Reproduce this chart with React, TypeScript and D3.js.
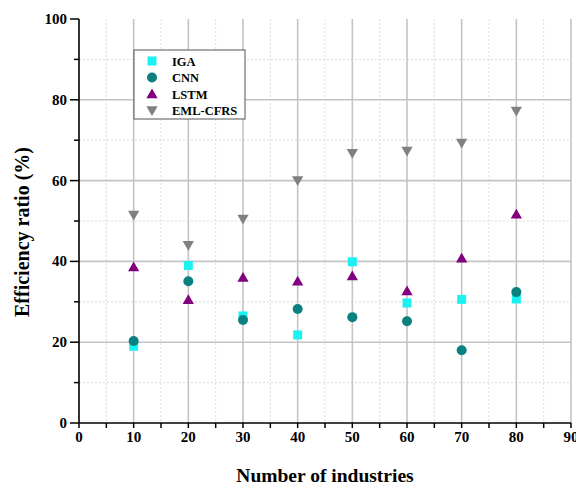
import React from 'react';
import * as d3 from 'd3';

const width = 576;
const height = 485;
const margin = { top: 19, right: 5, bottom: 62, left: 79 };

const industries = [10, 20, 30, 40, 50, 60, 70, 80];
const igaValues = [19, 39, 26.5, 21.8, 39.9, 29.7, 30.6, 30.7];
const cnnValues = [20.3, 35.1, 25.5, 28.2, 26.2, 25.2, 18, 32.4];
const lstmValues = [38.6, 30.5, 36, 35.1, 36.4, 32.7, 40.8, 51.7];
const emlValues = [51.5, 44, 50.5, 60, 66.8, 67.3, 69.3, 77.2];
const xTicks = [0, 10, 20, 30, 40, 50, 60, 70, 80, 90];
const yTicks = [0, 20, 40, 60, 80, 100];

const series = [
  { name: 'IGA', values: igaValues, color: '#1af2f2', shape: 'square' },
  { name: 'CNN', values: cnnValues, color: '#0a8080', shape: 'circle' },
  { name: 'LSTM', values: lstmValues, color: '#800080', shape: 'up' },
  { name: 'EML-CFRS', values: emlValues, color: '#808080', shape: 'down' },
];

const font = '"Liberation Serif", "Times New Roman", serif';

const x = d3.scaleLinear().domain([0, 90]).range([margin.left, width - margin.right]);
const y = d3.scaleLinear().domain([0, 100]).range([height - margin.bottom, margin.top]);

function Marker({ shape, cx, cy, color }: { shape: string; cx: number; cy: number; color: string }) {
  if (shape === 'square') {
    return <rect x={cx - 4.5} y={cy - 4.5} width={9} height={9} fill={color} />;
  }
  if (shape === 'circle') {
    return <circle cx={cx} cy={cy} r={5} fill={color} />;
  }
  const sym = d3.symbol().type(d3.symbolTriangle).size(55)();
  const rot = shape === 'down' ? 180 : 0;
  return <path d={sym || ''} transform={`translate(${cx},${cy + (shape === 'down' ? -1 : 1)}) rotate(${rot})`} fill={color} />;
}

export default function App() {
  const minorX = d3.range(5, 90, 10);
  const minorY = d3.range(10, 100, 20);
  const y0 = y(0);
  const x0 = x(0);
  return (
    <svg width={width} height={height} style={{ position: 'absolute', left: 0, top: 0, background: '#fff' }} fontFamily={font}>
      {/* minor grid */}
      {minorX.map(v => (
        <line key={'mx' + v} x1={x(v)} x2={x(v)} y1={y(100)} y2={y0} stroke="#dcdcdc" strokeDasharray="2,2" strokeWidth={1} />
      ))}
      {minorY.map(v => (
        <line key={'my' + v} x1={x0} x2={x(90)} y1={y(v)} y2={y(v)} stroke="#dcdcdc" strokeDasharray="2,2" strokeWidth={1} />
      ))}
      {/* major grid */}
      {xTicks.slice(1).map(v => (
        <line key={'gx' + v} x1={x(v)} x2={x(v)} y1={y(100)} y2={y0} stroke="#c4c4c4" strokeWidth={1.6} />
      ))}
      {yTicks.slice(1, 5).map(v => (
        <line key={'gy' + v} x1={x0} x2={x(90)} y1={y(v)} y2={y(v)} stroke="#c4c4c4" strokeWidth={1.6} />
      ))}

      {/* axes */}
      <line x1={x0} x2={x0} y1={y(100)} y2={y0} stroke="#000" strokeWidth={1.6} />
      <line x1={x0} x2={x(90)} y1={y0} y2={y0} stroke="#000" strokeWidth={1.6} />
      {d3.range(0, 95, 5).map(v => (
        <line key={'tx' + v} x1={x(v)} x2={x(v)} y1={y0} y2={y0 + 5} stroke="#000" strokeWidth={1.5} />
      ))}
      {d3.range(0, 110, 10).map(v => (
        <line key={'ty' + v} x1={x0} x2={x0 - (v % 20 === 0 ? 9 : 5)} y1={y(v)} y2={y(v)} stroke="#000" strokeWidth={1.5} />
      ))}
      {xTicks.map(v => (
        <text key={'lx' + v} x={x(v)} y={y0 + 19} textAnchor="middle" fontSize={15} fontWeight="bold">{v}</text>
      ))}
      {yTicks.map(v => (
        <text key={'ly' + v} x={x0 - 12} y={y(v) + 5} textAnchor="end" fontSize={15} fontWeight="bold">{v}</text>
      ))}
      <text x={325} y={482} textAnchor="middle" fontSize={19.5} fontWeight="bold">Number of industries</text>
      <text transform={`translate(29,232) rotate(-90)`} textAnchor="middle" fontSize={20} fontWeight="bold">Efficiency ratio (%)</text>

      {/* data */}
      {series.map(s => (
        <g key={s.name}>
          {s.values.map((v, i) => (
            <Marker key={i} shape={s.shape} cx={x(industries[i])} cy={y(v)} color={s.color} />
          ))}
        </g>
      ))}

      {/* legend */}
      <g transform="translate(134,50)">
        <rect x={0} y={0} width={111} height={69} fill="#fff" stroke="#555" strokeWidth={1} />
        {series.map((s, i) => (
          <g key={s.name} transform={`translate(0,${11 + i * 16.5})`}>
            <Marker shape={s.shape} cx={18} cy={0} color={s.color} />
            <text x={38} y={4.5} fontSize={12.5} fontWeight="bold">{s.name}</text>
          </g>
        ))}
      </g>
    </svg>
  );
}
